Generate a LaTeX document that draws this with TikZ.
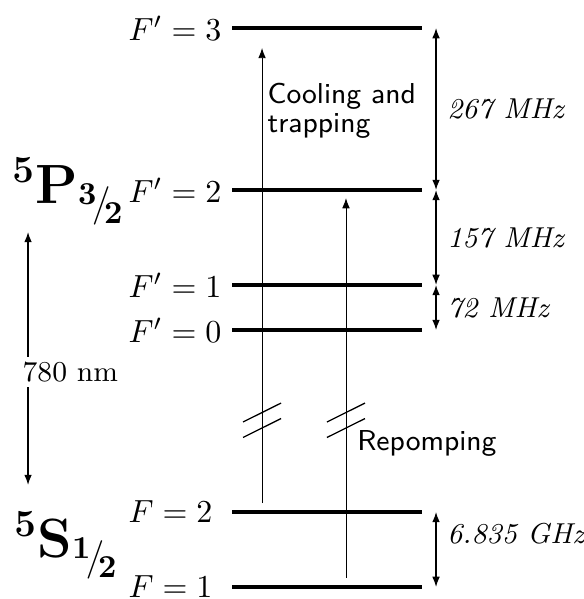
\documentclass[tikz,border=0pt]{standalone}
\usepackage{amsmath}
\usepackage{tikz}
\usetikzlibrary{arrows.meta}

\newcommand{\halfsub}[2]{{{}^{\mathbf{#1}}\!/\!{}_{\mathbf{#2}}}}

\begin{document}
\begin{tikzpicture}[
  level/.style={fill=black, inner sep=0pt, minimum width=2.087cm,
                minimum height=1.25pt},
  levlabel/.style={anchor=west, inner sep=1pt},
  state/.style={anchor=base west, inner sep=0pt, font=\LARGE},
  trans/.style={-{Latex[length=3.2pt,width=2.4pt]}, line width=0.3pt},
  gap/.style={{Latex[length=3.2pt,width=2.4pt]}-{Latex[length=3.2pt,width=2.4pt]},
              thin},
  freq/.style={font=\small\itshape, anchor=west},
  brk/.style={thin}
]
\useasboundingbox (0,0) rectangle (6.414,6.579);

\node[level] (e3) at (3.592,6.271) {};
\node[level] (e2) at (3.592,4.492) {};
\node[level] (e1) at (3.592,3.449) {};
\node[level] (e0) at (3.592,2.954) {};
\node[level] (g2) at (3.592,0.956) {};
\node[level] (g1) at (3.592,0.132) {};

\node[levlabel] (le3) at (1.371,6.271) {$F'=3$};
\node[levlabel] (le2) at (1.371,4.492) {$F'=2$};
\node[levlabel] (le1) at (1.371,3.449) {$F'=1$};
\node[levlabel] (le0) at (1.371,2.954) {$F'=0$};
\node[levlabel] (lg2) at (1.371,0.956) {$F=2$};
\node[levlabel] (lg1) at (1.371,0.132) {$F=1$};

\node[state] (p32) at (0.13,4.349) {$^{\mathbf{5}}\mathbf{P}_{\halfsub{3}{2}}$};
\node[state] (s12) at (0.15,0.461) {$^{\mathbf{5}}\mathbf{S}_{\halfsub{1}{2}}$};

\coordinate (wtop) at (0.308,4.031);
\coordinate (wbot) at (0.308,1.252);
\draw[gap] (wtop) -- (wbot);
\node[fill=white, inner sep=1.5pt, anchor=west, font=\small] (wl) at (0.189,2.493) {780 nm};

\coordinate (c0) at (2.878,1.054);
\coordinate (c1) at (2.878,6.052);
\coordinate (r0) at (3.800,0.231);
\coordinate (r1) at (3.800,4.404);
\draw[trans] (c0) -- (c1);
\draw[trans] (r0) -- (r1);

\foreach \x in {2.878,3.800}
  \foreach \y in {2.048,1.878}
    \draw[brk] (\x-0.209,\y-0.104) -- (\x+0.209,\y+0.104);

\node[anchor=west, align=left, font=\sffamily\small, inner sep=1pt] (cool)
  at (2.897,5.365) {Cooling and\\[-2pt]trapping};
\node[anchor=west, font=\sffamily\small] (rep) at (3.800,1.713) {Repomping};

\coordinate (d3) at (4.789,6.271);
\coordinate (d2) at (4.789,4.492);
\coordinate (d1) at (4.789,3.449);
\coordinate (d0) at (4.789,2.954);
\coordinate (dg2) at (4.789,0.956);
\coordinate (dg1) at (4.789,0.132);

\draw[gap] (d3) -- (d2) node[freq, midway] (f267) {267 MHz};
\draw[gap] (d2) -- (d1) node[freq, midway] (f157) {157 MHz};
\draw[gap] (d1) -- (d0) node[freq, midway] (f72) {72 MHz};
\draw[gap] (dg2) -- (dg1) node[freq, pos=0.29] (f6835) {6.835 GHz};
\end{tikzpicture}
\end{document}
